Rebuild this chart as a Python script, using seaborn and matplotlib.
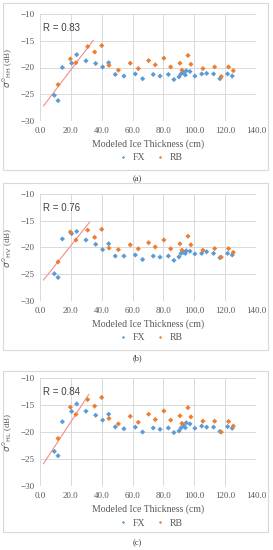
import matplotlib
matplotlib.use("Agg")
import matplotlib.pyplot as plt
import seaborn as sns
import pandas as pd
import numpy as np
from matplotlib.patches import Rectangle

# ---------------- data ----------------
fx_thickness = [9.3, 11.7, 14.5, 20.5, 23.8, 29.8, 36.1, 40.6, 44.5, 48.8, 54.4, 61.8, 66.5, 73.4,
                77.8, 83.2, 86.8, 90.1, 91.4, 92.9, 94.2, 94.8, 97.2, 100.4, 104.8, 108.0, 112.5,
                116.6, 121.6, 124.6]
fx_a = [-25.2, -26.2, -20.0, -19.2, -17.6, -18.75, -19.25, -19.9, -19.1, -21.3, -21.6, -21.2, -22.1,
        -21.3, -21.6, -21.3, -22.25, -21.75, -21.2, -20.9, -21.4, -20.6, -20.75, -21.6, -21.2, -21.1,
        -21.2, -22.1, -21.2, -21.6]
fx_b = [-24.9, -25.6, -18.4, -17.4, -17.0, -18.6, -19.4, -20.4, -19.3, -21.6, -21.6, -21.4, -22.25,
        -21.6, -21.8, -21.6, -22.4, -21.75, -21.1, -20.9, -21.1, -20.6, -20.7, -21.2, -21.1, -20.8,
        -21.1, -21.9, -21.1, -21.4]
fx_c = [-23.6, -24.4, -18.1, -16.2, -14.8, -16.15, -16.9, -17.8, -16.7, -19.05, -19.4, -19.1, -20.0,
        -19.25, -19.5, -19.25, -20.1, -19.8, -19.25, -18.75, -19.2, -18.3, -18.5, -19.3, -18.9, -19.1,
        -19.1, -19.9, -19.0, -19.3]

rb_thickness = [11.7, 19.7, 23.3, 30.9, 35.4, 40.0, 44.7, 50.8, 58.5, 63.7, 70.4, 74.7, 80.3, 84.7,
                90.7, 92.0, 95.9, 97.8, 105.6, 113.2, 117.5, 122.2, 125.3]
rb_a = [-23.2, -18.4, -19.1, -16.1, -17.1, -15.9, -19.6, -20.5, -19.2, -20.2, -18.7, -19.5, -18.25,
        -19.9, -19.2, -20.5, -17.75, -19.4, -20.2, -19.9, -21.7, -19.9, -20.6]
rb_b = [-22.7, -17.1, -18.6, -16.75, -18.1, -16.6, -20.1, -20.4, -19.5, -20.25, -19.1, -19.9, -18.6,
        -20.25, -19.3, -20.5, -17.9, -19.5, -20.5, -20.2, -21.8, -20.2, -20.9]
rb_c = [-21.2, -15.4, -16.75, -14.0, -15.2, -13.6, -17.5, -18.5, -17.1, -18.2, -16.7, -17.7, -16.1,
        -17.8, -17.0, -18.4, -15.5, -17.2, -18.0, -18.0, -20.0, -18.05, -18.9]

# trend lines (thin-ice fit): start x, end x, intercept, slope
trend_x_range = [[2.2, 34.6], [2.2, 32.2], [2.2, 31.7]]
trend_intercept = [-28.04, -26.9, -26.86]
trend_slope = [0.380, 0.362, 0.437]

r_values = ["0.83", "0.76", "0.84"]
pol_labels = ["HH", "HV", "HL"]
captions = ["(a)", "(b)", "(c)"]
x_ticks = [0, 20, 40, 60, 80, 100, 120, 140]
y_ticks = [-30, -25, -20, -15, -10]
series_names = ["FX", "RB"]

# ---------------- style ----------------
sns.set_theme(style="white")
plt.rcParams["font.family"] = ["Liberation Serif", "DejaVu Serif"]

W, H = 273, 550
fig = plt.figure(figsize=(W / 100, H / 100), dpi=100)

palette = {"FX": "#5B9BD5", "RB": "#ED7D31"}
grid_c = "#d9d9d9"
text_c = "#595959"

# axes pixel boxes: (top_px, bottom_px)
ax_px = [(14, 121), (194, 301), (378, 486)]
box_px = [(3, 170), (183, 350), (371, 532)]
cap_px = [179, 358, 543]
left_px, right_px = 40, 256

fx_sets = [fx_a, fx_b, fx_c]
rb_sets = [rb_a, rb_b, rb_c]

for i in range(3):
    top, bot = ax_px[i]
    # panel frame
    bt, bb = box_px[i]
    fig.add_artist(Rectangle((3 / W, 1 - bb / H), (268 - 3) / W, (bb - bt) / H,
                             transform=fig.transFigure, fill=False, edgecolor=grid_c, lw=0.8))
    ax = fig.add_axes([left_px / W, 1 - bot / H, (right_px - left_px) / W, (bot - top) / H])

    df = pd.concat([
        pd.DataFrame({"thickness": fx_thickness, "sigma": fx_sets[i], "site": "FX"}),
        pd.DataFrame({"thickness": rb_thickness, "sigma": rb_sets[i], "site": "RB"}),
    ], ignore_index=True)

    xs = np.array(trend_x_range[i])
    ys = trend_intercept[i] + trend_slope[i] * xs
    ax.plot(xs, ys, color="#F28C8C", lw=0.8, zorder=2)

    sns.scatterplot(data=df, x="thickness", y="sigma", hue="site", hue_order=series_names,
                    palette=palette, s=7, marker="D", edgecolor="none", ax=ax, zorder=3)

    ax.set_xlim(0, 140)
    ax.set_ylim(-30, -10)
    ax.set_xticks(x_ticks)
    ax.set_xticklabels([f"{v:.1f}" for v in x_ticks])
    ax.set_yticks(y_ticks)
    ax.grid(True, color=grid_c, lw=0.7)
    for sp in ax.spines.values():
        sp.set_visible(False)
    ax.tick_params(length=0, labelsize=6.5, colors=text_c, pad=4)

    ax.set_xlabel("Modeled Ice Thickness (cm)", fontsize=7, color=text_c)
    ax.xaxis.set_label_coords(0.5, -0.17)
    ax.set_ylabel(r"$\sigma^{0}$" + "$_{\\mathrm{" + pol_labels[i] + "}}$ (dB)", fontsize=6.5, color=text_c)
    ax.yaxis.set_label_coords(-0.115, 0.5)

    ax.text(0.014, 0.87, f"R = {r_values[i]}", transform=ax.transAxes, fontsize=7,
            color="#404040", family=["Liberation Sans", "DejaVu Sans"], va="center", ha="left")

    sns.move_legend(ax, "center", bbox_to_anchor=(0.5, -0.345), ncol=2, frameon=False,
                    title=None, fontsize=7, handletextpad=0.0, columnspacing=0.6,
                    markerscale=0.6)
    for t in ax.get_legend().get_texts():
        t.set_color(text_c)

    fig.text(137 / W, 1 - cap_px[i] / H, captions[i], fontsize=6, color="#333333",
             ha="center", va="center")

fig.savefig("out.png", dpi=100)
